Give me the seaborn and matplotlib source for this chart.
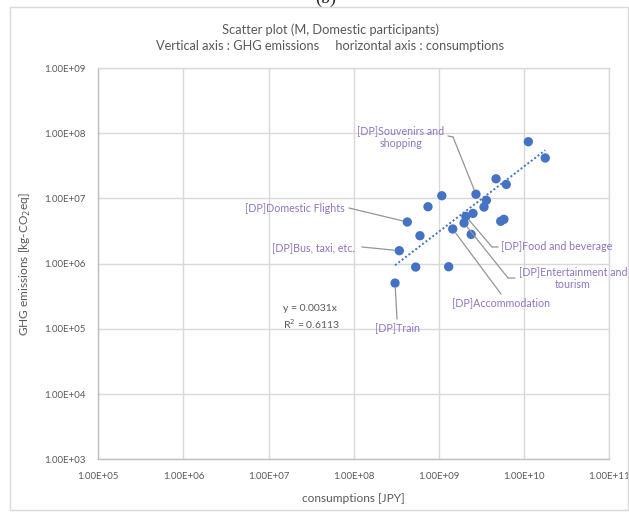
import matplotlib
matplotlib.use("Agg")
import matplotlib.pyplot as plt
import numpy as np
import pandas as pd
import seaborn as sns
from matplotlib.patches import Rectangle
from matplotlib.ticker import FixedLocator, FuncFormatter, NullLocator

# Consumption [JPY] and GHG emissions [kg-CO2eq] per item (M, domestic participants)
item = [
    "", "", "", "", "",
    "[DP]Souvenirs and\nshopping",
    "", "", "", "",
    "[DP]Food and beverage",
    "[DP]Entertainment and\ntourism",
    "", "",
    "[DP]Domestic Flights",
    "[DP]Accommodation",
    "", "",
    "[DP]Bus, taxi, etc.",
    "", "",
    "[DP]Train",
]
consumption_jpy = [
    1.12e10, 1.77e10, 4.68e9, 6.17e9, 1.08e9,
    2.72e9,
    3.60e9, 3.38e9, 7.43e8, 2.51e9,
    2.07e9,
    1.97e9,
    5.31e9, 5.79e9,
    4.25e8,
    1.45e9,
    5.98e8, 2.39e9,
    3.42e8,
    5.33e8, 1.30e9,
    3.05e8,
]
ghg_kg = [
    7.41e7, 4.17e7, 2.00e7, 1.64e7, 1.10e7,
    1.16e7,
    9.35e6, 7.38e6, 7.46e6, 5.90e6,
    5.31e6,
    4.20e6,
    4.46e6, 4.78e6,
    4.35e6,
    3.40e6,
    2.68e6, 2.81e6,
    1.58e6,
    8.87e5, 8.97e5,
    5.04e5,
]

# Linear trendline through the origin
trend_slope = 0.0031
trend_r2 = 0.6113

x_ticks = [1e5, 1e6, 1e7, 1e8, 1e9, 1e10, 1e11]
y_ticks = [1e3, 1e4, 1e5, 1e6, 1e7, 1e8, 1e9]

df = pd.DataFrame({"item": item, "consumption": consumption_jpy, "ghg": ghg_kg})

sns.set_theme(style="white")
plt.rcParams["font.family"] = ["Lato", "DejaVu Sans"]

W, H = 629, 512
fig = plt.figure(figsize=(W / 100, H / 100), dpi=100)
fig.patch.set_facecolor("white")

# chart-area border
fig.add_artist(Rectangle((10 / W, 1 - 510 / H), 618 / W, 503 / H,
                         transform=fig.transFigure, fill=False,
                         edgecolor="#D9D9D9", linewidth=1.0))

ax = fig.add_axes([98.3 / W, 1 - 459.3 / H, (609.3 - 98.3) / W, (459.3 - 68) / H])

grid_c = "#D9D9D9"
text_c = "#595959"
label_c = "#8F75C2"
leader_c = "#959595"
blue = "#4472C4"

ax.set_xscale("log")
ax.set_yscale("log")
ax.set_xlim(x_ticks[0], x_ticks[-1])
ax.set_ylim(y_ticks[0], y_ticks[-1])
ax.xaxis.set_major_locator(FixedLocator(x_ticks))
ax.yaxis.set_major_locator(FixedLocator(y_ticks))
ax.xaxis.set_minor_locator(NullLocator())
ax.yaxis.set_minor_locator(NullLocator())
sci = FuncFormatter(lambda v, _: f"{v:.2E}")
ax.xaxis.set_major_formatter(sci)
ax.yaxis.set_major_formatter(sci)
ax.grid(True, color=grid_c, linewidth=1.0)
ax.set_axisbelow(True)
for side, sp in ax.spines.items():
    sp.set_color("#BFBFBF" if side in ("left", "bottom") else grid_c)
    sp.set_linewidth(1.0)
ax.tick_params(axis="both", length=0, labelsize=7, labelcolor=text_c)
ax.tick_params(axis="x", pad=9)
ax.tick_params(axis="y", pad=9)

# trendline over the data's consumption range
tx = np.geomspace(min(consumption_jpy), max(consumption_jpy), 50)
trend = pd.DataFrame({"consumption": tx, "ghg": trend_slope * tx})
sns.lineplot(data=trend, x="consumption", y="ghg", ax=ax, color=blue,
             linestyle=(0, (1, 1.2)), linewidth=1.4, zorder=2)

sns.scatterplot(data=df, x="consumption", y="ghg", ax=ax, color=blue,
                s=45, edgecolor="none", zorder=3)

ax.set_xlabel("consumptions [JPY]", color=text_c, fontsize=8.6, labelpad=9)
ax.set_ylabel("GHG emissions [kg-CO$_2$eq]", color=text_c, fontsize=8.6, labelpad=8)


def fpx(x, y):
    return (x, H - y)


# label layout: text anchor (figure px), alignment, leader path from point
layout = {
    "[DP]Souvenirs and\nshopping": dict(pos=(401, 137), ha="center", path=[(453, 137), (448, 136)]),
    "[DP]Domestic Flights": dict(pos=(345, 208), ha="right", path=[(349, 208)]),
    "[DP]Bus, taxi, etc.": dict(pos=(355, 248), ha="right", path=[(362, 247)]),
    "[DP]Food and beverage": dict(pos=(501, 247), ha="left", path=[(492, 247), (498, 247)]),
    "[DP]Entertainment and\ntourism": dict(pos=(573, 278), ha="center", path=[(508, 278), (515, 278)]),
    "[DP]Accommodation": dict(pos=(501, 303), ha="center", path=[(501, 294)]),
    "[DP]Train": dict(pos=(397, 328), ha="center", path=[(397, 319)]),
}

for _, row in df[df["item"] != ""].iterrows():
    lay = layout[row["item"]]
    path = lay["path"]
    ax.annotate("", xy=(row["consumption"], row["ghg"]), xycoords="data",
                xytext=fpx(*path[0]), textcoords="figure pixels",
                arrowprops=dict(arrowstyle="-", color=leader_c, lw=0.9,
                                shrinkA=0, shrinkB=3.5))
    for a, b in zip(path[:-1], path[1:]):
        ax.annotate("", xy=fpx(*b), xycoords="figure pixels",
                    xytext=fpx(*a), textcoords="figure pixels",
                    arrowprops=dict(arrowstyle="-", color=leader_c, lw=0.9,
                                    shrinkA=0, shrinkB=0))
    px, py = lay["pos"]
    fig.text(px / W, 1 - py / H, row["item"], ha=lay["ha"], va="center",
             color=label_c, fontsize=7.7, linespacing=1.3, multialignment="center")

fig.text(283 / W, 1 - 317.5 / H, f"y = {trend_slope}x\nR$^2$ = {trend_r2}",
         ha="left", va="center", color=text_c, fontsize=7.5, linespacing=1.3)

# titles
fig.text(330 / W, 1 - 29.5 / H, "Scatter plot (M, Domestic participants)",
         ha="center", va="center", color=text_c, fontsize=9.3)
fig.text(330 / W, 1 - 46.5 / H,
         "Vertical axis : GHG emissions     horizontal axis : consumptions",
         ha="center", va="center", color=text_c, fontsize=9.2)
fig.text(326 / W, 1 - 3 / H, "(b)", ha="center", va="baseline",
         color="#222222", fontsize=13, family="Liberation Serif")

fig.savefig("out.png", dpi=100, facecolor="white")
